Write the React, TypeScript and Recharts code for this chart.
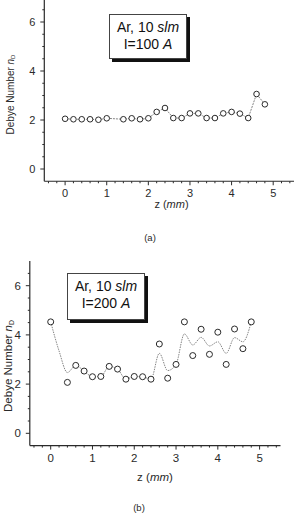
import React from 'react';
import { ComposedChart, Line, Scatter, XAxis, YAxis } from 'recharts';

const FONT = '"Liberation Sans", Arial, Helvetica, sans-serif';
const INK = '#2a2a2a';

// (a) Ar, 10 slm, I = 100 A
const zA = [0, 0.2, 0.4, 0.6, 0.8, 1.0, 1.4, 1.6, 1.8, 2.0, 2.2, 2.4, 2.6, 2.8, 3.0, 3.2, 3.4, 3.6, 3.8, 4.0, 4.2, 4.4, 4.6, 4.8];
const nA = [2.05, 2.03, 2.03, 2.03, 2.01, 2.07, 2.03, 2.07, 2.03, 2.07, 2.33, 2.49, 2.08, 2.08, 2.27, 2.27, 2.08, 2.08, 2.27, 2.33, 2.26, 2.08, 3.06, 2.64];

// (b) Ar, 10 slm, I = 200 A
const zB = [0, 0.4, 0.6, 0.8, 1.0, 1.2, 1.4, 1.6, 1.8, 2.0, 2.2, 2.4, 2.6, 2.8, 3.0, 3.2, 3.4, 3.6, 3.8, 4.0, 4.2, 4.4, 4.6, 4.8];
const nB = [4.53, 2.07, 2.76, 2.53, 2.30, 2.31, 2.72, 2.61, 2.20, 2.31, 2.30, 2.20, 3.63, 2.24, 2.80, 4.53, 3.16, 4.23, 3.21, 4.11, 2.80, 4.24, 3.44, 4.53];

// smoothed guide curve drawn through the (b) data
const zFit = [0, 0.2, 0.4, 0.6, 0.8, 1.0, 1.2, 1.4, 1.6, 1.8, 2.0, 2.2, 2.4, 2.6, 2.8, 3.0, 3.2, 3.4, 3.6, 3.8, 4.0, 4.2, 4.4, 4.6, 4.8];
const nFit = [4.53, 3.35, 2.47, 2.76, 2.53, 2.30, 2.31, 2.72, 2.61, 2.20, 2.31, 2.30, 2.20, 3.25, 2.55, 2.80, 4.04, 3.59, 3.90, 3.55, 3.72, 3.25, 3.89, 3.72, 4.53];

const xMajor = [0, 1, 2, 3, 4, 5];
const yMajor = [0, 2, 4, 6];

// minor ticks: every 0.2 mm on z, every 0.5 on n_D
const xTicks = Array.from({ length: 30 }, (_, i) => Math.round((i * 0.2 - 0.4) * 10) / 10);
const yTicks = Array.from({ length: 14 }, (_, i) => i * 0.5);

const toRows = (zs: number[], ns: number[]) => zs.map((z, i) => ({ z, n: ns[i] }));
const dataA = toRows(zA, nA);
const dataB = toRows(zB, nB);
const dataFit = toRows(zFit, nFit);

const isMajor = (v: number, majors: number[]) => majors.some((m) => Math.abs(m - v) < 1e-6);

const renderXTick = (p: any, fontSize: number) => {
  const { x, y, payload } = p;
  const major = isMajor(payload.value, xMajor);
  return (
    <g>
      <line x1={x} x2={x} y1={y} y2={y + (major ? 4 : 2)} stroke={INK} strokeWidth={1} />
      {major && (
        <text x={x} y={y + 16} textAnchor="middle" fontSize={fontSize} fontFamily={FONT} fill={INK}>
          {Math.round(payload.value)}
        </text>
      )}
    </g>
  );
};

const renderYTick = (p: any, fontSize: number) => {
  const { x, y, payload } = p;
  const major = isMajor(payload.value, yMajor);
  return (
    <g>
      <line x1={x} x2={x - (major ? 4 : 2)} y1={y} y2={y} stroke={INK} strokeWidth={1} />
      {major && (
        <text x={x - 9} y={y} dy="0.36em" textAnchor="end" fontSize={fontSize} fontFamily={FONT} fill={INK}>
          {Math.round(payload.value)}
        </text>
      )}
    </g>
  );
};

const ZTitle = ({ x, y, fontSize }: { x: number; y: number; fontSize: number }) => (
  <text x={x} y={y} textAnchor="middle" fontSize={fontSize} fontFamily={FONT} fill={INK}>
    z (<tspan fontStyle="italic">mm</tspan>)
  </text>
);

const NTitle = ({ x, y, fontSize }: { x: number; y: number; fontSize: number }) => (
  <text
    x={x}
    y={y}
    transform={`rotate(-90, ${x}, ${y})`}
    textAnchor="middle"
    dominantBaseline="central"
    fontSize={fontSize}
    fontFamily={FONT}
    fill={INK}
  >
    Debye Number <tspan fontStyle="italic">n</tspan>
    <tspan fontSize={fontSize * 0.6} dy={fontSize * 0.3}>D</tspan>
  </text>
);

const ring = (r: number) => (p: any) => (
  <circle key={`c-${p.index}-${p.cx}`} cx={p.cx} cy={p.cy} r={r} fill="#fff" stroke={INK} strokeWidth={1} />
);

const NoteBox = ({ left, top, width, height, lineHeight, padTop, current }: any) => (
  <div
    style={{
      position: 'absolute',
      left,
      top,
      width,
      height,
      boxSizing: 'border-box',
      border: '1px solid #444',
      background: '#fff',
      boxShadow: '3px 3px 0 #111',
      fontFamily: FONT,
      fontSize: 14,
      color: '#111',
      textAlign: 'center',
      lineHeight: `${lineHeight}px`,
      paddingTop: padTop,
    }}
  >
    <div>
      Ar, 10 <i>slm</i>
    </div>
    <div>
      I={current} <i>A</i>
    </div>
  </div>
);

const Caption = ({ x, y, text }: { x: number; y: number; text: string }) => (
  <div
    style={{
      position: 'absolute',
      left: x - 20,
      top: y - 6,
      width: 40,
      textAlign: 'center',
      fontFamily: FONT,
      fontSize: 9.5,
      lineHeight: '12px',
      color: INK,
    }}
  >
    {text}
  </div>
);

const App: React.FC = () => (
  <div style={{ position: 'absolute', left: 0, top: 0, width: 294, height: 513, overflow: 'hidden', background: '#fff' }}>
    {/* (a) 100 A */}
    <div style={{ position: 'absolute', left: 0, top: -10 }}>
      <ComposedChart width={294} height={240} margin={{ top: 7.5, right: 0, bottom: 18.75, left: 0 }}>
        <XAxis
          type="number"
          dataKey="z"
          domain={[-0.5, 5.5]}
          ticks={xTicks}
          interval={0}
          height={30}
          tickSize={0}
          tickMargin={0}
          tickLine={false}
          axisLine={{ stroke: INK, strokeWidth: 1.2 }}
          tick={(p: any) => renderXTick(p, 11)}
          label={{ content: () => <ZTitle x={171.5} y={218} fontSize={11} /> }}
        />
        <YAxis
          type="number"
          dataKey="n"
          domain={[-0.5, 7]}
          allowDataOverflow
          ticks={yTicks}
          interval={0}
          width={44.3}
          tickSize={0}
          tickMargin={0}
          tickLine={false}
          axisLine={{ stroke: INK, strokeWidth: 1.2 }}
          tick={(p: any) => renderYTick(p, 11)}
          label={{ content: () => <NTitle x={10} y={104.5} fontSize={10} /> }}
        />
        <Line
          data={dataA}
          dataKey="n"
          type="linear"
          stroke="#777"
          strokeWidth={0.9}
          strokeDasharray="2 1"
          dot={ring(2.8)}
          activeDot={false}
          isAnimationActive={false}
        />
      </ComposedChart>
    </div>
    <NoteBox left={109} top={14} width={78} height={44.5} lineHeight={16.6} padTop={4.4} current={100} />
    <Caption x={150} y={238} text="(a)" />

    {/* (b) 200 A */}
    <div style={{ position: 'absolute', left: 0, top: 250 }}>
      <ComposedChart width={294} height={240} margin={{ top: 11.1, right: 13.5, bottom: 14.4, left: 0 }}>
        <XAxis
          type="number"
          dataKey="z"
          domain={[-0.5, 5.5]}
          ticks={xTicks}
          interval={0}
          height={30}
          tickSize={0}
          tickMargin={0}
          tickLine={false}
          axisLine={{ stroke: INK, strokeWidth: 1.2 }}
          tick={(p: any) => renderXTick(p, 11.5)}
          label={{ content: () => <ZTitle x={155} y={231} fontSize={11.5} /> }}
        />
        <YAxis
          type="number"
          dataKey="n"
          domain={[-0.5, 7]}
          allowDataOverflow
          ticks={yTicks}
          interval={0}
          width={29.8}
          tickSize={0}
          tickMargin={0}
          tickLine={false}
          axisLine={{ stroke: INK, strokeWidth: 1.2 }}
          tick={(p: any) => renderYTick(p, 11.5)}
          label={{ content: () => <NTitle x={7.5} y={116} fontSize={11.5} /> }}
        />
        <Line
          data={dataFit}
          dataKey="n"
          type="monotone"
          stroke="#777"
          strokeWidth={0.9}
          strokeDasharray="1.5 1"
          dot={false}
          activeDot={false}
          isAnimationActive={false}
        />
        <Scatter data={dataB} dataKey="n" shape={ring(3)} isAnimationActive={false} />
      </ComposedChart>
    </div>
    <NoteBox left={67} top={273} width={78} height={47} lineHeight={17.6} padTop={3.6} current={200} />
    <Caption x={139} y={508} text="(b)" />
  </div>
);

export default App;
